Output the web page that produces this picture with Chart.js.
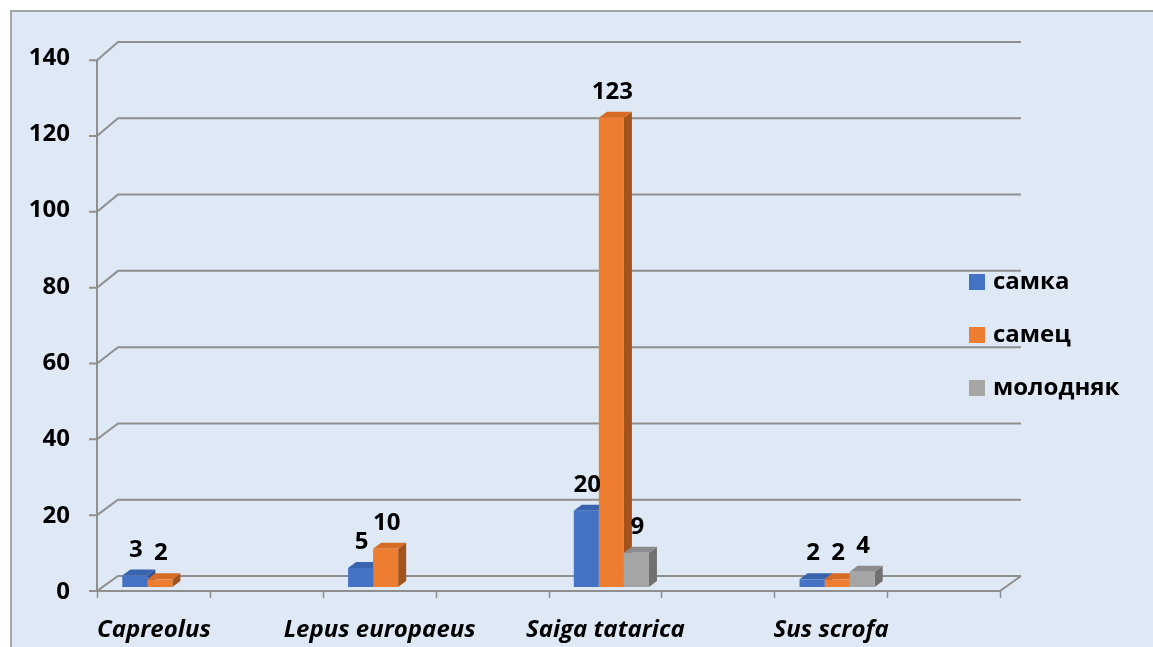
<!DOCTYPE html>
<html>
<head>
<meta charset="utf-8">
<script src="https://cdn.jsdelivr.net/npm/chart.js@4"></script>
<style>
    html, body { margin: 0; padding: 0; background: #fff; overflow: hidden; }
    #frame {
        position: absolute; left: 10px; top: 10px; width: 1170px; height: 670px;
        background: #dee9f5; border-left: 2px solid #a6a6a6; border-top: 2px solid #a6a6a6;
    }
    #wrap { position: absolute; left: 0; top: 0; width: 1153px; height: 647px; }
</style>
</head>
<body>
<div id="frame"></div>
<div id="wrap"><canvas id="chart"></canvas></div>
<script>
const categories = ['Capreolus', 'Lepus europaeus', 'Saiga tatarica', 'Sus scrofa'];
const seriesNames = ['самка', 'самец', 'молодняк'];
const femaleValues = [3, 5, 20, 2];
const maleValues = [2, 10, 123, 2];
const youngValues = [null, null, 9, 4];
const yTicks = [0, 20, 40, 60, 80, 100, 120, 140];

const FONT = '"Open Sans"';
const frontColors = ['#4472c4', '#ed7d31', '#a5a5a5'];
const topColors = ['#3a63ad', '#d66c25', '#8c8c8c'];
const sideColors = ['#2f528f', '#a4531c', '#707070'];

// back wall / floor / axes, drawn under the bars
const frame3d = {
    id: 'frame3d',
    afterLayout(chart) {
        // y labels sit right of the plot's left edge (the front wall is shifted)
        const y = chart.scales.y;
        y.right = y.left + 70;
    },
    beforeDatasetsDraw(chart) {
        const {ctx, chartArea: a, scales: {y}} = chart;
        const base = y.getPixelForValue(0);
        const x0 = a.left + 50, x1 = a.right + 50;
        const dx = 21;
        const front = v => base + 4 + (y.getPixelForValue(v) - base) * 0.994;
        const back = v => base - 11 + (y.getPixelForValue(v) - base);
        ctx.save();
        ctx.strokeStyle = '#8f8f8f';
        ctx.lineWidth = 2;
        yTicks.forEach(v => {
            ctx.beginPath();
            ctx.moveTo(x0 - 8, front(v));
            ctx.lineTo(x0, front(v));
            ctx.lineTo(x0 + dx, back(v));
            ctx.lineTo(x1 + dx, back(v));
            ctx.stroke();
        });
        ctx.beginPath();
        ctx.moveTo(x0, front(0));
        ctx.lineTo(x1, front(0));
        ctx.lineTo(x1 + dx, back(0));
        ctx.stroke();
        ctx.beginPath();
        ctx.moveTo(x0, front(yTicks[yTicks.length - 1]));
        ctx.lineTo(x0, front(0));
        ctx.stroke();
        ctx.lineWidth = 1.5;
        const n = categories.length * 2;
        for (let i = 0; i <= n; i++) {
            const x = Math.round(x0 + i * (x1 - x0) / n) + 0.5;
            ctx.beginPath();
            ctx.moveTo(x, front(0));
            ctx.lineTo(x, front(0) + 7);
            ctx.stroke();
        }

        // top and side faces of bars, fronts are drawn over them by Chart.js
        chart.data.datasets.forEach((ds, di) => {
            const meta = chart.getDatasetMeta(di);
            meta.data.forEach((bar, i) => {
                if (!ds.data[i]) return;
                const {x, y: top, base: b, width} = bar.getProps(['x', 'y', 'base', 'width'], true);
                const l = x - width / 2, r = x + width / 2;
                ctx.fillStyle = sideColors[di];
                ctx.beginPath();
                ctx.moveTo(r, top); ctx.lineTo(r + 8, top - 6);
                ctx.lineTo(r + 8, b - 6); ctx.lineTo(r, b);
                ctx.closePath(); ctx.fill();
                ctx.fillStyle = topColors[di];
                ctx.beginPath();
                ctx.moveTo(l, top); ctx.lineTo(r, top);
                ctx.lineTo(r + 8, top - 6); ctx.lineTo(l + 8, top - 6);
                ctx.closePath(); ctx.fill();
            });
        });
        ctx.restore();
    }
};

const valueLabels = {
    id: 'valueLabels',
    afterDatasetsDraw(chart) {
        const {ctx} = chart;
        ctx.save();
        ctx.font = 'bold 24px ' + FONT;
        ctx.fillStyle = '#000';
        ctx.textAlign = 'center';
        ctx.textBaseline = 'alphabetic';
        chart.data.datasets.forEach((ds, di) => {
            chart.getDatasetMeta(di).data.forEach((bar, i) => {
                if (ds.data[i] == null) return;
                ctx.fillText(String(ds.data[i]), bar.x + 1, bar.y - 19);
            });
        });
        ctx.restore();
    }
};

const sideLegend = {
    id: 'sideLegend',
    afterDraw(chart) {
        const {ctx, chartArea: a} = chart;
        const lx = a.right + 19;
        const mid = (a.top + a.bottom) / 2 + 15;
        ctx.save();
        ctx.font = 'bold 24px ' + FONT;
        ctx.textBaseline = 'middle';
        ctx.textAlign = 'left';
        chart.data.datasets.forEach((ds, di) => {
            const cy = mid + (di - 1) * 53;
            ctx.fillStyle = ds.backgroundColor;
            ctx.fillRect(lx, cy - 8, 16, 16);
            ctx.fillStyle = '#000';
            ctx.fillText(ds.label, lx + 24, cy);
        });
        ctx.restore();
    }
};

new Chart(document.getElementById('chart'), {
    type: 'bar',
    data: {
        labels: categories,
        datasets: [femaleValues, maleValues, youngValues].map((vals, i) => ({
            label: seriesNames[i],
            data: vals,
            backgroundColor: frontColors[i],
            categoryPercentage: 0.333,
            barPercentage: 1.0
        }))
    },
    options: {
        responsive: true,
        maintainAspectRatio: false,
        animation: false,
        layout: { padding: { top: 53, right: 203, bottom: 0, left: 0 } },
        plugins: { legend: { display: false }, tooltip: { enabled: false } },
        scales: {
            x: {
                grid: { display: false, drawTicks: false },
                border: { display: false },
                ticks: {
                    font: { family: FONT, size: 24, weight: 'bold', style: 'italic' },
                    color: '#000', padding: 29, labelOffset: -6, maxRotation: 0, autoSkip: false
                },
                afterFit: s => { s.height = 60; }
            },
            y: {
                min: 0, max: 140,
                grid: { display: false, drawTicks: false },
                border: { display: false },
                ticks: {
                    stepSize: 20, padding: 0, labelOffset: 5,
                    font: { family: FONT, size: 24, weight: 'bold' }, color: '#000'
                },
                afterFit: s => { s.width = 47; }
            }
        }
    },
    plugins: [frame3d, valueLabels, sideLegend]
});
</script>
</body>
</html>
